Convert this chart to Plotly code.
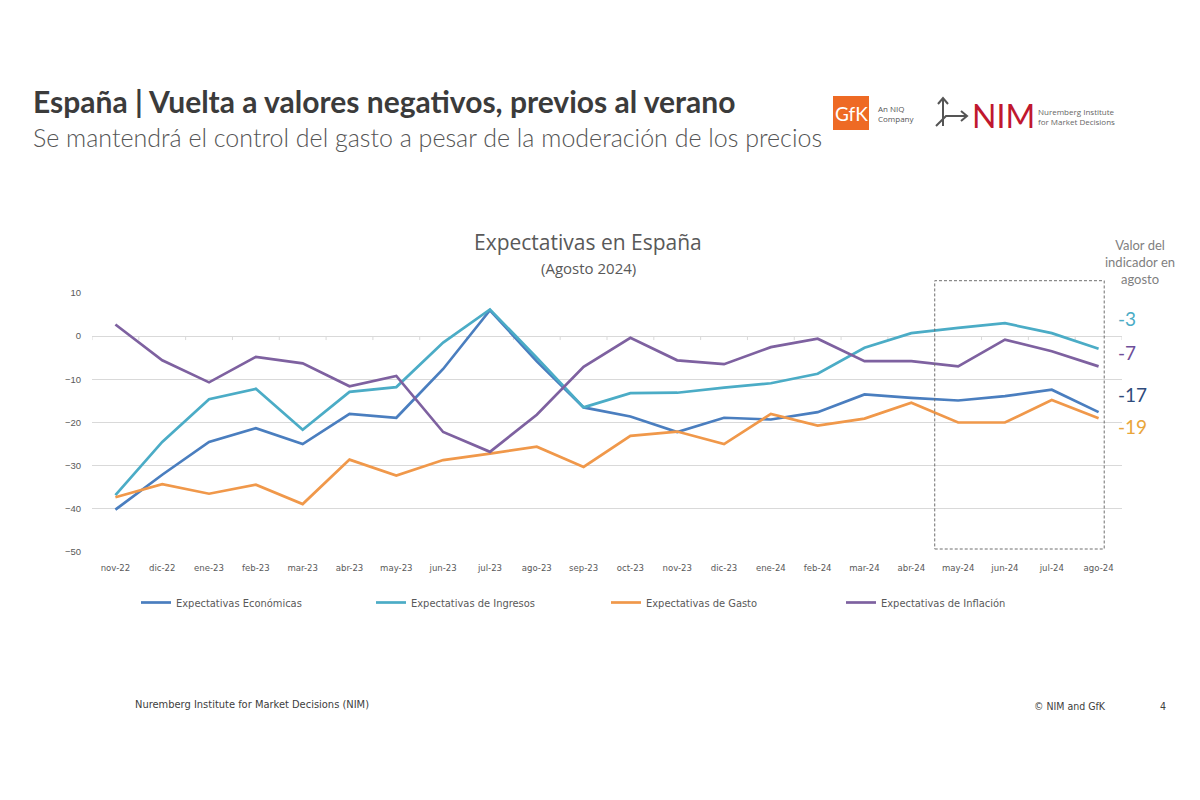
import plotly.graph_objects as go

months = ["nov-22","dic-22","ene-23","feb-23","mar-23","abr-23","may-23","jun-23","jul-23","ago-23",
          "sep-23","oct-23","nov-23","dic-23","ene-24","feb-24","mar-24","abr-24","may-24","jun-24","jul-24","ago-24"]

economicas = [-40.2,-32.1,-24.5,-21.3,-25.0,-18.0,-18.9,-7.6,6.0,-5.8,
              -16.5,-18.6,-22.2,-18.9,-19.3,-17.6,-13.5,-14.3,-14.9,-13.9,-12.4,-17.6]
ingresos = [-36.8,-24.5,-14.6,-12.2,-21.7,-12.9,-11.8,-1.5,6.2,-5.0,
            -16.5,-13.2,-13.1,-11.9,-10.9,-8.7,-2.7,0.7,1.9,3.0,0.7,-2.9]
gasto = [-37.3,-34.3,-36.5,-34.4,-38.9,-28.6,-32.3,-28.7,-27.2,-25.6,
         -30.3,-23.1,-22.1,-25.0,-18.0,-20.7,-19.1,-15.4,-20.0,-20.0,-14.8,-19.0]
inflacion = [2.7,-5.6,-10.7,-4.8,-6.3,-11.6,-9.2,-22.2,-26.8,-18.2,
             -7.1,-0.4,-5.6,-6.5,-2.55,-0.6,-5.8,-5.8,-7.0,-0.8,-3.5,-7.0]

series_names = ["Expectativas Económicas","Expectativas de Ingresos","Expectativas de Gasto","Expectativas de Inflación"]
series_colors = ["#4A7EBF","#4BACC6","#F0984A","#7E61A0"]
label_values = ["-3","-7","-17","-19"]
label_colors = ["#4BACC6","#6E4E9A","#2F4B7C","#E9A53A"]
y_ticks = [10,0,-10,-20,-30,-40,-50]

OFF = 8  # default page body margin
W, H = 1200 - OFF, 800 - OFF
L, R, T, B = 92, 1122, 293, 552  # target screen pixels of plot area

def px(x):
    return (x - L) / (R - L)

def py(y):
    return (B - y) / (B - T)

def cat_paper(idx):
    return (idx + 0.5) / len(months)

NARROW = "Liberation Sans Narrow, DejaVu Sans Condensed, Open Sans"

fig = go.Figure()
for name, vals, col in zip(series_names, [economicas, ingresos, gasto, inflacion], series_colors):
    fig.add_trace(go.Scatter(x=months, y=vals, name=name, mode="lines",
                             line=dict(color=col, width=2.7), hoverinfo="x+y+name"))

shapes = []
for i in range(len(months) + 1):
    shapes.append(dict(type="line", xref="x", yref="y", x0=i - 0.5, x1=i - 0.5, y0=0, y1=-0.9,
                       line=dict(color="#D9D9D9", width=1), layer="below"))
# dashed box around the last four months
shapes.append(dict(type="rect", xref="paper", yref="paper",
                   x0=cat_paper(len(months) - 4.5), x1=cat_paper(len(months) - 0.88),
                   y0=py(549), y1=py(280.7), line=dict(color="#6F6F6F", width=1, dash="3px,2px"),
                   fillcolor="rgba(0,0,0,0)"))
shapes.append(dict(type="rect", xref="paper", yref="paper", x0=px(833), x1=px(869), y0=py(130), y1=py(96),
                   fillcolor="#EE6A24", line=dict(width=0)))
arrow_col = "#555555"
shapes.append(dict(type="path", xref="paper", yref="paper",
                   path=f"M {px(943)} {py(126)} L {px(943)} {py(98)} M {px(938)} {py(104)} L {px(943)} {py(98)} L {px(948)} {py(104)}",
                   line=dict(color=arrow_col, width=2)))
shapes.append(dict(type="path", xref="paper", yref="paper",
                   path=f"M {px(936)} {py(126)} L {px(946)} {py(116)} L {px(967)} {py(116)} M {px(961)} {py(111)} L {px(967)} {py(116)} L {px(961)} {py(121)}",
                   line=dict(color=arrow_col, width=2)))

ann = []
def text(x, y, s, size, color, family="Lato", xanchor="left", yanchor="middle", weight=None, align="left"):
    f = dict(size=size, color=color, family=family)
    if weight is not None:
        f["weight"] = weight
    ann.append(dict(x=px(x), y=py(y), xref="paper", yref="paper", text=s, showarrow=False,
                    xanchor=xanchor, yanchor=yanchor, font=f, align=align))

text(31, 101, "España | Vuelta a valores negativos, previos al verano", 30, "#3B3B3B", weight=700)
text(31, 137, "Se mantendrá el control del gasto a pesar de la moderación de los precios", 25, "#555555", weight=300)
text(851, 113, "GfK", 19, "#FFFFFF", family="Lato", xanchor="center")
text(876, 113, "An NIQ<br>Company", 8, "#555555", family="Open Sans", align="left")
text(970, 115, "NIM", 32, "#C0182F", family="Lato", weight=400)
text(1036, 116, "Nuremberg Institute<br>for Market Decisions", 8, "#666666", family="Open Sans", align="left")

text(588, 242, "Expectativas en España", 21, "#595959", family="Open Sans", xanchor="center")
text(588, 268, "(Agosto 2024)", 15, "#595959", family="Open Sans", xanchor="center")

text(1140, 262, "Valor del<br>indicador en<br>agosto", 13, "#7F7F7F", xanchor="center", align="center")
for s, c, y in zip(label_values, label_colors, [318, 352, 394, 426]):
    text(1116, y, s, 19, c, xanchor="left")

text(133, 704, "Nuremberg Institute for Market Decisions (NIM)", 11, "#404040", family=NARROW)
text(1032, 706, "© NIM and GfK", 10.5, "#404040", family=NARROW)
text(1163, 706, "4", 10.5, "#404040", family=NARROW, xanchor="center")

fig.update_layout(
    width=W, height=H,
    margin=dict(l=L - OFF, r=W - (R - OFF), t=T - OFF, b=H - (B - OFF), pad=0),
    paper_bgcolor="white", plot_bgcolor="white",
    showlegend=True,
    legend=dict(orientation="h", x=px(136), y=py(588), xanchor="left", yanchor="top",
                entrywidth=190, entrywidthmode="pixels",
                font=dict(size=11, color="#595959", family=NARROW),
                itemwidth=30, tracegroupgap=0),
    xaxis=dict(type="category", categoryorder="array", categoryarray=months,
               range=[-0.5, len(months) - 0.5], showgrid=False, zeroline=False,
               showline=False, ticks="", tickfont=dict(size=9.5, color="#595959", family=NARROW),
               ticklabelstandoff=8, fixedrange=True),
    yaxis=dict(range=[-50, 10], tickvals=y_ticks, showgrid=True, gridcolor="#D9D9D9", gridwidth=1,
               zeroline=False, showline=False, ticks="",
               tickfont=dict(size=9.5, color="#595959", family="Liberation Sans"),
               ticklabelstandoff=10, fixedrange=True),
    shapes=shapes, annotations=ann,
)

fig.write_html("out.html")
